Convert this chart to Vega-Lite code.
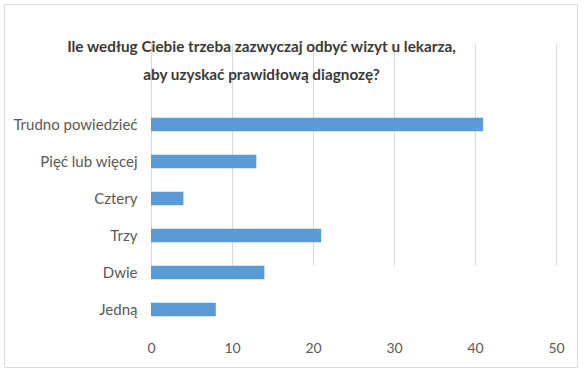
{
  "$schema": "https://vega.github.io/schema/vega-lite/v6.json",
  "width": 573,
  "height": 363,
  "autosize": {"type": "none"},
  "padding": {"left": 4, "top": 4, "right": 9, "bottom": 2},
  "background": "white",
  "title": {
    "text": ["Ile według Ciebie trzeba zazwyczaj odbyć wizyt u lekarza,", "aby uzyskać prawidłową diagnozę?"],
    "anchor": "middle",
    "frame": "group",
    "offset": -79,
    "dx": -29,
    "font": "Lato",
    "fontSize": 15.3,
    "fontWeight": "bold",
    "color": "#3a3a3a",
    "lineHeight": 28
  },
  "data": {
    "values": [
      {"odpowiedz": "Trudno powiedzieć", "liczba": 41},
      {"odpowiedz": "Pięć lub więcej", "liczba": 13},
      {"odpowiedz": "Cztery", "liczba": 4},
      {"odpowiedz": "Trzy", "liczba": 21},
      {"odpowiedz": "Dwie", "liczba": 14},
      {"odpowiedz": "Jedną", "liczba": 8}
    ]
  },
  "mark": {"type": "bar", "color": "#5B9BD5"},
  "encoding": {
    "y": {
      "field": "odpowiedz",
      "type": "nominal",
      "sort": null,
      "scale": {"range": [102, 324], "paddingInner": 0.64, "paddingOuter": 0.32},
      "axis": {
        "title": null,
        "orient": "left",
        "offset": -147,
        "domain": false,
        "ticks": false,
        "grid": false,
        "labelPadding": 14,
        "labelFont": "Lato",
        "labelFontSize": 15,
        "labelColor": "#595959"
      }
    },
    "x": {
      "field": "liczba",
      "type": "quantitative",
      "scale": {"domain": [0, 50], "range": [147, 552], "nice": false},
      "axis": {
        "title": null,
        "orient": "bottom",
        "offset": -39,
        "values": [0, 10, 20, 30, 40, 50],
        "domain": false,
        "ticks": false,
        "grid": true,
        "gridColor": "#d9d9d9",
        "gridWidth": 1,
        "labelFlush": false,
        "labelPadding": 13,
        "labelFont": "Lato",
        "labelFontSize": 14,
        "labelColor": "#595959"
      }
    }
  },
  "config": {
    "view": {"stroke": "#d9d9d9", "strokeWidth": 1}
  }
}
